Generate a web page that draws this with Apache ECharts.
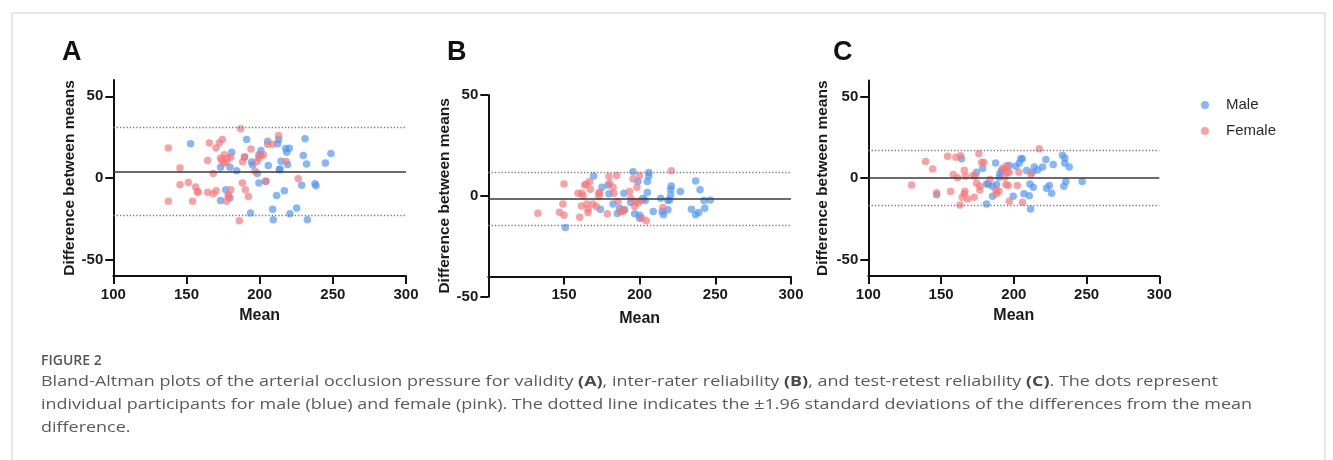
<!DOCTYPE html>
<html>
<head>
<meta charset="utf-8">
<script src="https://cdn.jsdelivr.net/npm/echarts@6/dist/echarts.min.js"></script>
<style>
html,body{margin:0;padding:0;background:#fff;}
#chart{width:1333px;height:460px;}
</style>
</head>
<body>
<div id="chart"></div>
<script>
// ---------- DATA ----------
const panelLetters = ['A', 'B', 'C'];
const xTicks = [100, 150, 200, 250, 300];
const xTicksB = [150, 200, 250, 300];
const yTicks = [-50, 0, 50];
const meanDiff = [4.1, -1.5, 0.0];
const upperLoA = [30.9, 11.6, 17.0];
const lowerLoA = [-23.0, -14.4, -16.4];
const seriesNames = ['Male', 'Female'];

// Panel A (validity): [mean, difference]
const maleA = [[152.8,20.9],[173.3,6.6],[173.3,-13.7],[176.8,-7.2],[179.7,6.6],[179.7,-12.3],[180.9,15.8],[184.3,4.5],[189.7,12.9],[191.1,23.6],[193.8,-21.5],[194.5,9.8],[195.2,8],[198.4,2.7],[199.5,-3.1],[199.5,14.3],[200.9,16.8],[204.1,-2.0],[205.9,7.6],[205.5,22.5],[208.9,-19.1],[209.3,-25.6],[211.6,-10.7],[212.3,20.9],[213,23.6],[213.4,5.1],[213.9,5.5],[214.6,10.2],[216.9,-7.8],[217.8,18],[218.5,15.8],[219.1,8.2],[220.3,18.2],[220.7,-21.9],[225.3,-18.4],[228.7,-4.5],[229.8,13.7],[231,24],[232.1,8.6],[232.6,-25.6],[237.8,-3.5],[238.5,-4.7],[244.9,9.2],[248.7,15]];
const femaleA = [[137.6,18.4],[137.6,-14.3],[145.6,6.1],[145.6,-4.1],[151.3,-2.7],[154.2,-14.3],[156.3,-5.5],[157.4,-8.2],[158,-8.8],[164.5,10.7],[165.6,21.5],[164.5,-8.8],[168.3,2.7],[168.3,-9.6],[170.2,18.4],[170.2,-7.8],[172.4,21.5],[173.3,12.3],[174,10.7],[174.5,23.6],[175.9,14.3],[175.6,9.2],[177.4,9.6],[178.1,12.3],[177.4,-14.3],[178.6,-10.2],[178.6,-11.3],[180.2,-7.2],[180.2,12.7],[187,30.1],[186.1,-26.2],[188.2,-3.1],[188.4,10],[189.7,12.9],[190.2,-7.2],[192.3,-11.3],[194.1,17.8],[196.8,4.1],[198,10],[199.5,12.3],[200.9,13.7],[202.5,14.3],[204.3,-2.0],[205.5,20.5],[208.9,20.7],[213,26],[218,10.2],[226.4,-0.4]];

// Panel B (inter-rater reliability)
const maleB = [[150.9,-15.7],[169.6,9.9],[174,-6.6],[175.1,4.3],[179.1,5.4],[179.7,1],[182.4,-4],[185.2,-8.7],[186.8,-6.1],[189.6,1.3],[190.1,-6.9],[194.1,-3.3],[195.6,12],[196.7,-8.9],[198.9,7.1],[200,-11.1],[200,-9.6],[202.2,-1.2],[203.7,-2.3],[205.1,1.7],[205.1,7.1],[206,11.6],[206,9.9],[209,-7.8],[213.9,-1.2],[214.8,-7.8],[215.7,-9.4],[218.7,-6.9],[218.7,-2.3],[219.8,-2],[220.5,0.5],[220.5,3.3],[220.9,4.9],[226.9,2.1],[234.2,-6.6],[237,-9.4],[237,7.4],[239,-8.3],[239.9,3],[242.5,-2.3],[243,-6.1],[246.7,-2]];
const femaleB = [[132.8,-8.6],[147.1,-8.1],[150,5.9],[149.3,-4],[150,-9.6],[159.3,1.3],[160.4,-10.6],[161.9,1.3],[161.5,-5],[162.6,0],[163.7,5.4],[164.8,5.9],[165.2,-4],[165.9,-8.3],[165.9,-6.6],[167,7.1],[167.4,3.3],[169.2,-4],[171.4,-5.3],[173.1,1.3],[173.1,-0.3],[173.6,1.7],[178.6,-8.9],[179.7,9.6],[180.2,6.3],[182.4,4.3],[183,1.3],[184.8,10.1],[185.7,-2.8],[187.2,-7.9],[189,-7.8],[189.4,-6.9],[193.4,2.1],[194.1,-1.2],[195.6,8.4],[196.7,-5.3],[197.1,-2.8],[198.2,4.3],[198.9,-3.6],[200,10.1],[200.7,-2.3],[201.5,-11.1],[204.4,-12.4],[215.4,-5.8],[220.9,12.4]];

// Panel C (test-retest reliability)
const maleC = [[147,-10.2],[164.1,11.9],[174.4,3.7],[178.6,5.9],[181.3,-3.5],[181.3,-15.8],[182.5,-3.5],[185.4,-4.9],[185.4,-11.1],[187.5,9.4],[188.2,-3.9],[190,0.6],[190.5,3.1],[191.6,4.7],[197,7.8],[199.6,-11.1],[201.5,7.4],[203.8,9.4],[204.9,11.9],[205.8,11.9],[207,-9.6],[208.8,4.7],[210.6,-10.7],[211.1,-3.5],[211.5,-18.9],[212.7,3.7],[213.4,-5.5],[214.1,6.8],[216.4,5.1],[219.8,6.8],[222.1,11.5],[222.5,-6.1],[224.4,-4.5],[226,-9.2],[227.1,8.4],[233.5,14.1],[235.1,12.3],[235.1,9.2],[234.4,-4.9],[235.8,-2],[238.1,6.8],[247,-2]];
const femaleC = [[129.8,-4.1],[139.4,10.2],[144.2,5.7],[147,-9],[154.5,13.5],[156.6,-8.2],[158.4,2.3],[160.2,12.9],[161.4,0.2],[163.4,13.7],[163,-16.4],[164.6,-11.7],[166,4.7],[166,-9.6],[166.4,-8],[166.9,1.2],[168.3,-12.7],[172.1,1.8],[172.8,-11.7],[173.3,1.2],[174.4,-3.1],[176,15],[176.7,-7.2],[176.7,-4.9],[177.9,9.6],[179.5,9.6],[183.6,-0.8],[187.7,-7.2],[188.2,-9.6],[189.8,-8],[192.3,6.1],[193.2,5.1],[193.9,0.6],[194.6,-3.9],[195.1,7.8],[195.5,3.7],[196.2,-4.5],[196.9,-14.1],[196.9,3.7],[202.4,-4.5],[203.5,3.7],[206,-14.8],[211.8,2.3],[217.5,18]];

const maleData = [maleA, maleB, maleC];
const femaleData = [femaleA, femaleB, femaleC];

// ---------- LAYOUT / STYLE ----------
const FONT = "'Liberation Sans', Arial, sans-serif";
const CAPFONT = "'Open Sans', 'Noto Sans', sans-serif";
const BLUE = 'rgba(76,150,246,0.85)';
const PINK = 'rgba(246,118,120,0.85)';

const grids = [
  {left: 113.3, top: 80, width: 292.7, height: 196},
  {left: 488.3, top: 95, width: 302.7, height: 201.7},
  {left: 868.3, top: 80.4, width: 291, height: 195.6}
];
const yRange = [[-60, 60], [-50, 50], [-60, 60]];
const yNameGap = [36, 35, 38];
const xNameGap = [32, 34, 32];

const axisLineStyle = {color: '#111', width: 2};
const labelStyle = {fontFamily: FONT, fontWeight: 'bold', fontSize: 15, color: '#1a1a1a'};

const xAxes = [], yAxes = [], series = [];
for (let i = 0; i < 3; i++) {
  const xt = i === 1 ? xTicksB : xTicks;
  xAxes.push({
    type: 'value', gridIndex: i, min: 100, max: 300, interval: 50,
    offset: i === 1 ? -20.2 : 0,
    name: 'Mean', nameLocation: 'middle', nameGap: xNameGap[i],
    nameTextStyle: {fontFamily: FONT, fontWeight: 'bold', fontSize: 16, color: '#1a1a1a'},
    axisLine: {show: true, onZero: false, lineStyle: axisLineStyle},
    axisTick: {show: true, length: 8, lineStyle: {color: '#111', width: 2}, customValues: xt},
    axisLabel: Object.assign({margin: 11, customValues: xt}, labelStyle),
    splitLine: {show: false}
  });
  yAxes.push({
    type: 'value', gridIndex: i, min: yRange[i][0], max: yRange[i][1],
    name: 'Difference between means', nameLocation: 'middle', nameRotate: 90, nameGap: yNameGap[i],
    nameTextStyle: {fontFamily: FONT, fontWeight: 'bold', fontSize: 15.5, color: '#1a1a1a'},
    axisLine: {show: true, onZero: false, lineStyle: axisLineStyle},
    axisTick: {show: true, length: 8, lineStyle: {color: '#111', width: 2}, customValues: yTicks},
    axisLabel: Object.assign({margin: 10, customValues: yTicks}, labelStyle),
    splitLine: {show: false}
  });
  series.push({
    name: seriesNames[0], type: 'scatter', xAxisIndex: i, yAxisIndex: i,
    data: maleData[i], symbolSize: 7.5, itemStyle: {color: BLUE},
    markLine: {
      silent: true, symbol: ['none', 'none'], animation: false,
      label: {show: false},
      data: [
        {yAxis: meanDiff[i], lineStyle: {color: '#3a3a3a', width: 1.6, type: 'solid'}},
        {yAxis: upperLoA[i], lineStyle: {color: '#7a7a7a', width: 1.3, type: [1.3, 2]}},
        {yAxis: lowerLoA[i], lineStyle: {color: '#7a7a7a', width: 1.3, type: [1.3, 2]}}
      ]
    }
  });
  series.push({
    name: seriesNames[1], type: 'scatter', xAxisIndex: i, yAxisIndex: i,
    data: femaleData[i], symbolSize: 7.5, itemStyle: {color: PINK}
  });
}

const titleLeft = [62, 447, 833];
const titles = panelLetters.map((t, i) => ({
  text: t, left: titleLeft[i], top: 39, padding: 0,
  textStyle: {fontFamily: FONT, fontWeight: 'bold', fontSize: 27, color: '#111'}
}));

const captionLines = [
  'Bland-Altman plots of the arterial occlusion pressure for validity {b|(A)}, inter-rater reliability {b|(B)}, and test-retest reliability {b|(C)}. The dots represent',
  'individual participants for male (blue) and female (pink). The dotted line indicates the \u00b11.96 standard deviations of the differences from the mean',
  'difference.'
];
const captionGraphics = captionLines.map((t, k) => ({
  type: 'text', x: 41, y: 374 + k * 23, scaleX: 1.197, scaleY: 1, silent: true,
  style: {
    text: t, fontFamily: CAPFONT, fontSize: 15, fill: '#5a5a5a',
    rich: {b: {fontFamily: CAPFONT, fontSize: 15, fontWeight: 'bold', fill: '#4a4a4a'}}
  }
}));

const option = {
  backgroundColor: '#ffffff',
  animation: false,
  title: titles,
  legend: {
    data: seriesNames, orient: 'vertical', left: 1196, top: 91,
    icon: 'circle', itemWidth: 8, itemHeight: 8, itemGap: 8,
    textStyle: {fontFamily: FONT, fontSize: 15, color: '#2a2a2a', lineHeight: 18, padding: [0, 0, 0, 12]},
    selectedMode: false
  },
  grid: grids,
  xAxis: xAxes,
  yAxis: yAxes,
  series: series,
  graphic: [
    {type: 'rect', left: 9.5, top: 10.5, silent: true,
     shape: {width: 1313, height: 470}, style: {fill: 'none', stroke: '#cfcfcf', lineWidth: 1}},
    {type: 'text', left: 41, top: 354, silent: true,
     style: {text: 'FIGURE 2', fontFamily: CAPFONT, fontSize: 14, fontWeight: 600, fill: '#555'}}
  ].concat(captionGraphics)
};

const chart = echarts.init(document.getElementById('chart'), null, {renderer: 'canvas'});
chart.setOption(option);
</script>
</body>
</html>
